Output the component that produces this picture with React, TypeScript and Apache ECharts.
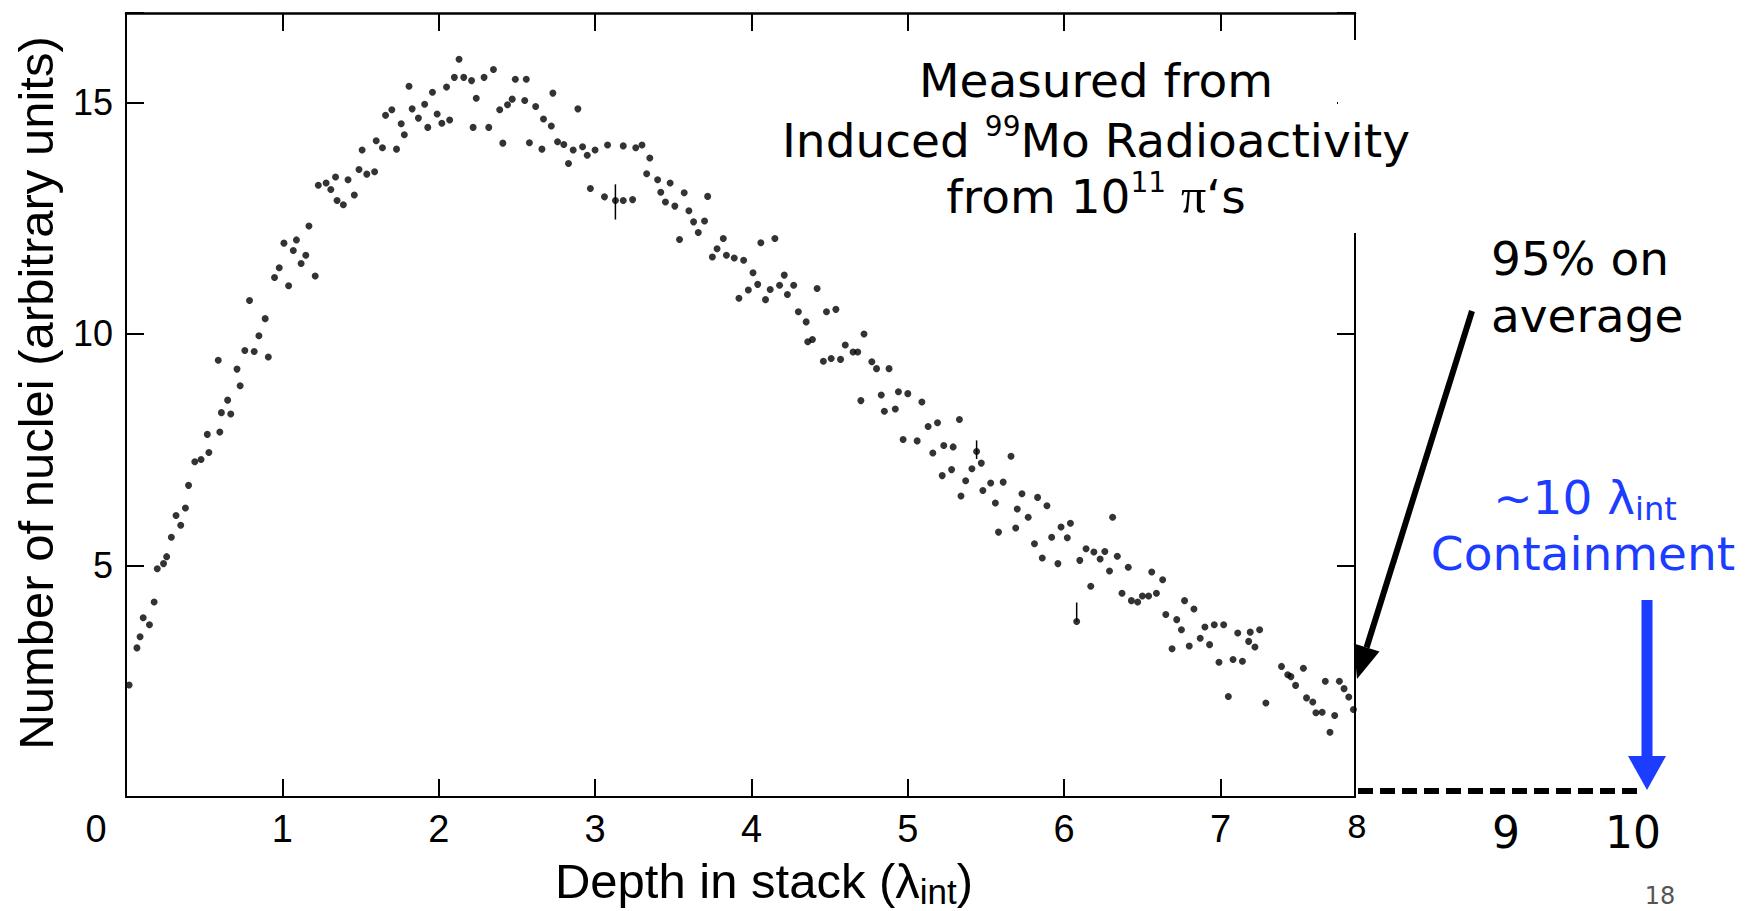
import { useEffect, useRef } from "react";
import * as echarts from "echarts";

// ---- data ----
const depthValues: number[] = [
  0.02, 0.07, 0.09, 0.11, 0.15, 0.18, 0.2, 0.24, 0.26, 0.29,
  0.32, 0.35, 0.38, 0.4, 0.44, 0.48, 0.52, 0.53, 0.59, 0.6,
  0.61, 0.65, 0.67, 0.71, 0.73, 0.76, 0.79, 0.82, 0.85, 0.89,
  0.91, 0.95, 0.98, 1.01, 1.04, 1.07, 1.09, 1.12, 1.15, 1.17,
  1.21, 1.23, 1.28, 1.31, 1.34, 1.35, 1.39, 1.42, 1.46, 1.49,
  1.51, 1.54, 1.59, 1.6, 1.64, 1.66, 1.7, 1.73, 1.76, 1.78,
  1.81, 1.83, 1.87, 1.91, 1.93, 1.96, 1.99, 2.02, 2.05, 2.07,
  2.1, 2.13, 2.16, 2.21, 2.22, 2.24, 2.29, 2.32, 2.35, 2.39,
  2.41, 2.44, 2.47, 2.49, 2.55, 2.56, 2.58, 2.62, 2.66, 2.67,
  2.72, 2.73, 2.76, 2.8, 2.83, 2.86, 2.89, 2.92, 2.95, 2.97,
  3.0, 3.06, 3.08, 3.13, 3.18, 3.18, 3.24, 3.26, 3.3, 3.33,
  3.35, 3.4, 3.42, 3.45, 3.48, 3.51, 3.54, 3.57, 3.6, 3.63,
  3.66, 3.7, 3.72, 3.75, 3.78, 3.82, 3.84, 3.89, 3.92, 3.95,
  3.98, 4.01, 4.04, 4.06, 4.09, 4.12, 4.15, 4.18, 4.21, 4.23,
  4.27, 4.3, 4.35, 4.36, 4.39, 4.42, 4.46, 4.48, 4.51, 4.54,
  4.57, 4.6, 4.65, 4.68, 4.7, 4.72, 4.77, 4.8, 4.83, 4.85,
  4.88, 4.92, 4.94, 4.97, 5.0, 5.06, 5.09, 5.13, 5.16, 5.19,
  5.22, 5.23, 5.28, 5.29, 5.33, 5.34, 5.37, 5.41, 5.44, 5.47,
  5.48, 5.53, 5.56, 5.58, 5.61, 5.66, 5.69, 5.7, 5.73, 5.77,
  5.81, 5.83, 5.86, 5.89, 5.92, 5.96, 5.98, 6.02, 6.04, 6.08,
  6.1, 6.14, 6.17, 6.19, 6.23, 6.26, 6.29, 6.31, 6.34, 6.37,
  6.41, 6.43, 6.47, 6.5, 6.54, 6.56, 6.59, 6.63, 6.65, 6.69,
  6.72, 6.75, 6.77, 6.8, 6.83, 6.87, 6.9, 6.93, 6.96, 6.99,
  7.02, 7.05, 7.08, 7.11, 7.14, 7.18, 7.19, 7.22, 7.25, 7.29,
  7.39, 7.43, 7.45, 7.48, 7.53, 7.55, 7.59, 7.61, 7.65, 7.67,
  7.7, 7.73, 7.76, 7.79, 7.82, 7.85,
];

const nucleiValues: number[] = [
  2.42, 3.22, 3.46, 3.87, 3.72, 4.21, 4.93, 5.04, 5.19, 5.61,
  6.08, 5.87, 6.24, 6.73, 7.24, 7.29, 7.83, 7.44, 9.43, 7.88,
  8.3, 8.57, 8.27, 9.24, 8.88, 9.64, 10.72, 9.62, 9.96, 10.33,
  9.5, 11.22, 11.43, 11.96, 11.04, 11.8, 12.03, 11.52, 11.7, 12.33,
  11.25, 13.21, 13.26, 13.12, 13.39, 12.88, 12.79, 13.33, 13.0, 13.55,
  13.97, 13.45, 13.5, 14.17, 14.02, 14.72, 14.84, 13.99, 14.54, 14.3,
  15.35, 14.86, 14.66, 14.96, 14.46, 15.22, 14.75, 14.55, 15.33, 14.62,
  15.54, 15.93, 15.54, 15.47, 14.46, 15.09, 15.54, 14.46, 15.71, 14.84,
  14.12, 14.95, 15.07, 15.5, 15.04, 15.5, 14.13, 14.91, 13.99, 14.64,
  14.49, 15.2, 14.15, 14.09, 13.68, 13.97, 14.86, 14.04, 13.86, 13.14,
  13.97, 12.96, 14.08, 12.88, 14.06, 12.88, 12.9, 14.02, 14.08, 13.46,
  13.8, 13.33, 13.06, 12.85, 13.26, 12.76, 12.04, 13.05, 12.66, 12.42,
  12.19, 12.44, 12.97, 11.66, 11.84, 12.06, 11.7, 11.64, 10.77, 11.59,
  10.95, 11.32, 11.07, 11.97, 10.74, 10.96, 12.06, 11.05, 11.27, 10.85,
  11.05, 10.48, 10.26, 9.83, 9.88, 10.98, 9.41, 10.48, 9.47, 10.53,
  9.45, 9.76, 9.61, 9.61, 8.56, 10.0, 9.4, 9.25, 8.68, 8.33,
  9.25, 8.38, 8.75, 7.72, 8.71, 7.69, 8.53, 8.0, 7.43, 8.08,
  6.94, 7.59, 7.07, 7.56, 8.15, 6.5, 6.83, 7.09, 7.46, 7.21,
  6.62, 6.78, 6.35, 5.72, 6.8, 7.36, 5.81, 6.22, 6.55, 6.04,
  5.47, 6.47, 5.16, 6.29, 5.61, 5.04, 5.83, 5.6, 5.91, 3.79,
  5.11, 5.36, 4.55, 5.29, 5.14, 5.3, 4.88, 6.04, 5.2, 4.4,
  4.96, 4.24, 4.21, 4.34, 4.34, 4.86, 4.4, 4.69, 3.94, 3.2,
  3.83, 3.61, 4.24, 3.26, 4.06, 3.43, 3.67, 3.29, 3.72, 2.91,
  3.72, 2.17, 2.97, 3.54, 2.93, 3.36, 3.56, 3.24, 3.61, 2.03,
  2.82, 2.64, 2.6, 2.41, 2.78, 2.14, 2.05, 1.82, 1.83, 2.5,
  1.4, 1.76, 2.5, 2.34, 2.16, 1.89,
];

// error bars: depth, low, high
const errorBarDepth: number[] = [3.13, 5.44, 6.08];
const errorBarLow: number[] = [12.47, 7.3, 3.79];
const errorBarHigh: number[] = [13.23, 7.7, 4.2];

const X_MIN = 0;
const X_MAX = 7.86;
const X_INTERVAL = 1;
const Y_MIN = 0;
const Y_MAX = 16.93;
const Y_INTERVAL = 5;

const originLabel = "0";
const extensionLabels: string[] = ["8", "9", "10"];
const yTitle = "Number of nuclei (arbitrary units)";
const xTitleMain = "Depth in stack (λ";
const xTitleSub = "int";
const noteLines: string[] = ["Measured from", "Induced ", "99", "Mo Radioactivity", "from 10", "11", "π", "‘s"];
const averageLines: string[] = ["95% on", "average"];
const containLines: string[] = ["~10 λ", "int", "Containment"];
const pageNumber = "18";

const AXIS_FONT = '"Liberation Sans", Arial, Helvetica, sans-serif';
const SLIDE_FONT = '"DejaVu Sans", Verdana, sans-serif';
const SERIF_FONT = '"Liberation Serif", "DejaVu Serif", serif';
const INK = "#000";
const BLUE = "#1c3cff";

const intLabel = (v: number) =>
  v > 0 && Math.abs(v - Math.round(v)) < 1e-6 ? String(Math.round(v)) : "";

export default function App() {
  const ref = useRef<HTMLDivElement>(null);

  useEffect(() => {
    if (!ref.current) return;
    const chart = echarts.init(ref.current, null, { renderer: "svg" });

    const points = depthValues.map((d, i) => [d, nucleiValues[i]]);
    const bars = errorBarDepth.map((d, i) => [d, errorBarLow[i], errorBarHigh[i]]);

    const axisLine = (w: number) => ({ show: true, onZero: false, lineStyle: { color: INK, width: w } });
    const axisTick = { show: true, inside: true, length: 18, lineStyle: { color: INK, width: 2 } };

    const option: any = {
      animation: false,
      backgroundColor: "#ffffff",
      grid: { left: 126, top: 13, width: 1229, height: 784, containLabel: false, outerBoundsMode: "none" },
      xAxis: [
        {
          type: "value", min: X_MIN, max: X_MAX, interval: X_INTERVAL, position: "bottom",
          axisLine: axisLine(2), axisTick,
          axisLabel: { show: true, formatter: intLabel, fontSize: 38, fontFamily: AXIS_FONT, color: INK, margin: 13 },
          splitLine: { show: false },
        },
        {
          type: "value", min: X_MIN, max: X_MAX, interval: X_INTERVAL, position: "top",
          axisLine: axisLine(2.5), axisTick,
          axisLabel: { show: false }, splitLine: { show: false },
        },
      ],
      yAxis: [
        {
          type: "value", min: Y_MIN, max: Y_MAX, interval: Y_INTERVAL, position: "left",
          axisLine: axisLine(2), axisTick,
          axisLabel: { show: true, formatter: intLabel, fontSize: 36, fontFamily: AXIS_FONT, color: INK, margin: 13 },
          splitLine: { show: false },
        },
        {
          type: "value", min: Y_MIN, max: Y_MAX, interval: Y_INTERVAL, position: "right",
          axisLine: axisLine(2), axisTick,
          axisLabel: { show: false }, splitLine: { show: false },
        },
      ],
      series: [
        {
          type: "scatter", xAxisIndex: 0, yAxisIndex: 0, data: points,
          symbol: "circle", symbolSize: 7, itemStyle: { color: INK }, silent: true,
        },
        {
          type: "custom", xAxisIndex: 0, yAxisIndex: 0, data: bars,
          encode: { x: 0, y: [1, 2] }, silent: true,
          renderItem: (_p: any, api: any) => {
            const a = api.coord([api.value(0), api.value(1)]);
            const b = api.coord([api.value(0), api.value(2)]);
            return {
              type: "line",
              shape: { x1: a[0], y1: a[1], x2: b[0], y2: b[1] },
              style: { stroke: INK, lineWidth: 1.5 },
            };
          },
        },
      ],
      graphic: [
        // white box behind the note, hiding the right frame there
        { type: "rect", z: 100, shape: { x: 1338, y: 40, width: 32, height: 193 }, style: { fill: "#ffffff" } },
        // y title
        {
          type: "text", z: 101, x: 36, y: 393, rotation: Math.PI / 2,
          style: { text: yTitle, fontSize: 49, fontFamily: AXIS_FONT, fill: INK, align: "center", verticalAlign: "middle" },
        },
        // x title
        {
          type: "text", z: 101, x: 764, y: 881,
          style: {
            text: `{m|${xTitleMain}}{s|${xTitleSub}}{m|)}`,
            align: "center", verticalAlign: "middle",
            rich: {
              m: { fontSize: 49, fontFamily: AXIS_FONT, fill: INK, lineHeight: 56 },
              s: { fontSize: 35, fontFamily: AXIS_FONT, fill: INK, lineHeight: 30, verticalAlign: "bottom" },
            },
          },
        },
        // origin label
        {
          type: "text", z: 101, x: 96, y: 829,
          style: { text: originLabel, fontSize: 38, fontFamily: AXIS_FONT, fill: INK, align: "center", verticalAlign: "middle" },
        },
        // note
        {
          type: "text", z: 101, x: 1096, y: 80,
          style: { text: noteLines[0], fontSize: 47, fontFamily: SLIDE_FONT, fill: INK, align: "center", verticalAlign: "middle" },
        },
        {
          type: "text", z: 101, x: 1096, y: 140,
          style: {
            text: `{m|${noteLines[1]}}{s|${noteLines[2]}}{m|${noteLines[3]}}`,
            align: "center", verticalAlign: "middle",
            rich: {
              m: { fontSize: 47, fontFamily: SLIDE_FONT, fill: INK, lineHeight: 56 },
              s: { fontSize: 28, fontFamily: SLIDE_FONT, fill: INK, lineHeight: 38, verticalAlign: "top" },
            },
          },
        },
        {
          type: "text", z: 101, x: 1096, y: 196,
          style: {
            text: `{m|${noteLines[4]}}{s|${noteLines[5]}}{m| }{p|${noteLines[6]}}{m|${noteLines[7]}}`,
            align: "center", verticalAlign: "middle",
            rich: {
              m: { fontSize: 47, fontFamily: SLIDE_FONT, fill: INK, lineHeight: 56 },
              s: { fontSize: 28, fontFamily: SLIDE_FONT, fill: INK, lineHeight: 38, verticalAlign: "top" },
              p: { fontSize: 50, fontFamily: SERIF_FONT, fill: INK, lineHeight: 56 },
            },
          },
        },
        // 95% on average
        {
          type: "text", z: 101, x: 1491, y: 258,
          style: { text: averageLines[0], fontSize: 47, fontFamily: SLIDE_FONT, fill: INK, align: "left", verticalAlign: "middle" },
        },
        {
          type: "text", z: 101, x: 1491, y: 315,
          style: { text: averageLines[1], fontSize: 47, fontFamily: SLIDE_FONT, fill: INK, align: "left", verticalAlign: "middle" },
        },
        // black arrow
        { type: "line", z: 101, shape: { x1: 1472, y1: 311, x2: 1366.6, y2: 647.5 }, style: { stroke: "#000", lineWidth: 6 } },
        { type: "polygon", z: 101, shape: { points: [[1357, 679], [1379.5, 651.4], [1353.8, 643.4]] }, style: { fill: "#000" } },
        // blue containment note
        {
          type: "text", z: 101, x: 1585, y: 497,
          style: {
            text: `{m|${containLines[0]}}{s|${containLines[1]}}`,
            align: "center", verticalAlign: "middle",
            rich: {
              m: { fontSize: 47, fontFamily: SLIDE_FONT, fill: BLUE, lineHeight: 56 },
              s: { fontSize: 32, fontFamily: SLIDE_FONT, fill: BLUE, lineHeight: 30, verticalAlign: "bottom" },
            },
          },
        },
        {
          type: "text", z: 101, x: 1583, y: 553,
          style: { text: containLines[2], fontSize: 47, fontFamily: SLIDE_FONT, fill: BLUE, align: "center", verticalAlign: "middle" },
        },
        // blue arrow
        { type: "rect", z: 101, shape: { x: 1641.5, y: 600, width: 11, height: 158 }, style: { fill: BLUE } },
        { type: "polygon", z: 101, shape: { points: [[1628, 756], [1666, 756], [1647, 790]] }, style: { fill: BLUE } },
        // dashed extension of the depth axis
        { type: "line", z: 101, shape: { x1: 1358, y1: 791, x2: 1641, y2: 791 }, style: { stroke: INK, lineWidth: 6, lineDash: [15, 7] } },
        // extension labels 8, 9, 10
        {
          type: "text", z: 101, x: 1357, y: 827,
          style: { text: extensionLabels[0], fontSize: 32, fontFamily: SLIDE_FONT, fill: INK, align: "center", verticalAlign: "middle" },
        },
        {
          type: "text", z: 101, x: 1506, y: 832,
          style: { text: extensionLabels[1], fontSize: 44, fontFamily: SLIDE_FONT, fill: INK, align: "center", verticalAlign: "middle" },
        },
        {
          type: "text", z: 101, x: 1633, y: 832,
          style: { text: extensionLabels[2], fontSize: 44, fontFamily: SLIDE_FONT, fill: INK, align: "center", verticalAlign: "middle" },
        },
        // page number, kept just inside the bottom edge
        {
          type: "text", z: 101, x: 1660, y: 896,
          style: { text: pageNumber, fontSize: 24, fontFamily: SLIDE_FONT, fill: "#555", align: "center", verticalAlign: "middle" },
        },
      ],
    };

    chart.setOption(option);
    return () => chart.dispose();
  }, []);

  return (
    <div
      ref={ref}
      style={{ position: "absolute", left: 0, top: 0, width: 1754, height: 911, background: "#ffffff" }}
    />
  );
}
